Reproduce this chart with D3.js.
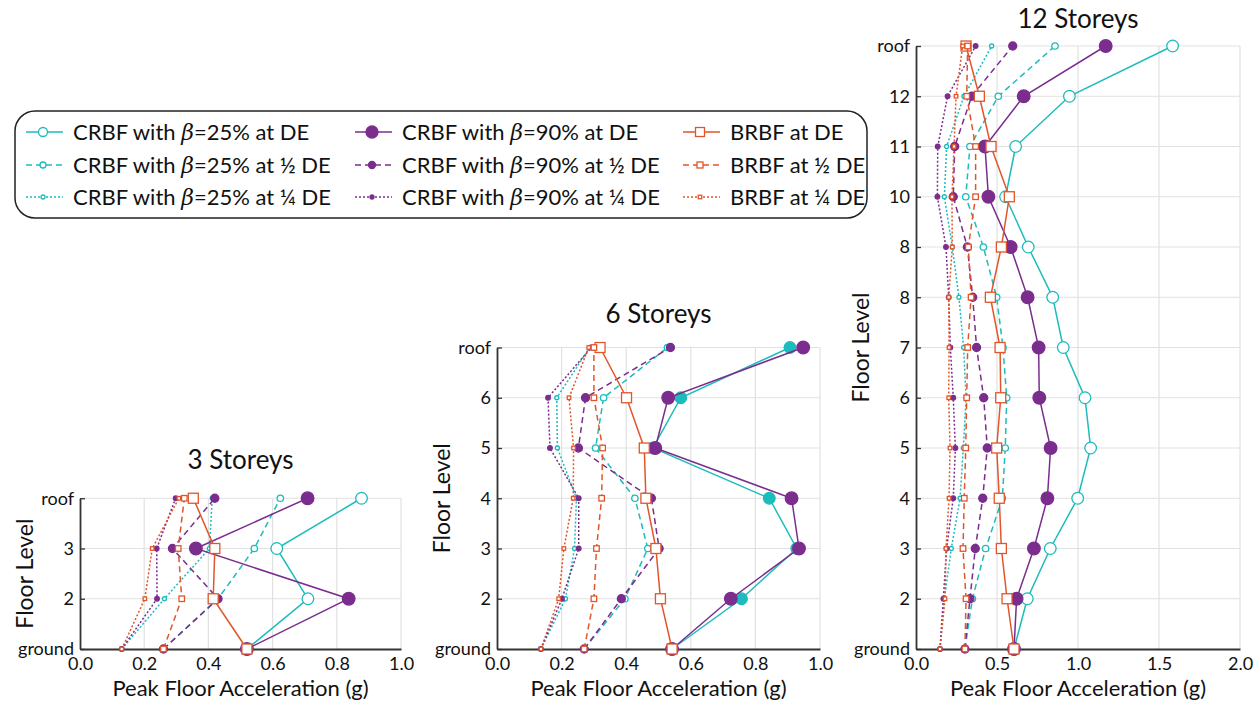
<!DOCTYPE html>
<html>
<head>
<meta charset="utf-8">
<script src="https://cdn.jsdelivr.net/npm/d3@7"></script>
<style>
  body { margin: 0; background: #fff; }
  text { font-family: Lato, "Open Sans", sans-serif; fill: #111; }
</style>
</head>
<body>
<div id="chart"></div>
<script>
// floor labels (bottom to top)
var levels3 = ["ground", "2", "3", "roof"];
var levels6 = ["ground", "2", "3", "4", "5", "6", "roof"];
var levels12 = ["ground", "2", "3", "4", "5", "6", "7", "8", "8", "10", "11", "12", "roof"];

var seriesNames = [
  "CRBF with β=25% at DE", "CRBF with β=25% at ½ DE", "CRBF with β=25% at ¼ DE",
  "CRBF with β=90% at DE", "CRBF with β=90% at ½ DE", "CRBF with β=90% at ¼ DE",
  "BRBF at DE", "BRBF at ½ DE", "BRBF at ¼ DE"
];

// peak floor acceleration (g), one row per series, ground -> roof
var pfa3 = [
  [0.52, 0.71, 0.613, 0.877],
  [0.26, 0.43, 0.543, 0.624],
  [0.13, 0.263, 0.403, 0.412],
  [0.52, 0.837, 0.361, 0.709],
  [0.26, 0.43, 0.288, 0.42],
  [0.13, 0.24, 0.239, 0.298],
  [0.52, 0.415, 0.42, 0.353],
  [0.26, 0.317, 0.306, 0.325],
  [0.13, 0.202, 0.225, 0.308]
];

var pfa6 = [
  [0.542, 0.757, 0.928, 0.843, 0.483, 0.569, 0.907],
  [0.27, 0.396, 0.467, 0.427, 0.305, 0.33, 0.528],
  [0.136, 0.212, 0.24, 0.246, 0.187, 0.185, 0.287],
  [0.542, 0.724, 0.935, 0.912, 0.49, 0.53, 0.948],
  [0.27, 0.385, 0.502, 0.478, 0.252, 0.274, 0.537],
  [0.136, 0.201, 0.253, 0.253, 0.164, 0.158, 0.292],
  [0.542, 0.506, 0.492, 0.461, 0.456, 0.401, 0.319],
  [0.27, 0.30, 0.308, 0.324, 0.327, 0.30, 0.30],
  [0.136, 0.191, 0.207, 0.236, 0.237, 0.223, 0.284]
];

var pfa12 = [
  [0.605, 0.687, 0.829, 0.998, 1.078, 1.043, 0.909, 0.844, 0.693, 0.553, 0.615, 0.947, 1.584],
  [0.302, 0.348, 0.43, 0.533, 0.551, 0.56, 0.537, 0.498, 0.416, 0.307, 0.333, 0.508, 0.858],
  [0.148, 0.175, 0.218, 0.272, 0.292, 0.309, 0.294, 0.265, 0.224, 0.175, 0.189, 0.296, 0.467],
  [0.605, 0.621, 0.728, 0.811, 0.831, 0.761, 0.757, 0.689, 0.584, 0.447, 0.426, 0.665, 1.171],
  [0.302, 0.333, 0.366, 0.412, 0.44, 0.418, 0.374, 0.35, 0.317, 0.23, 0.239, 0.344, 0.597],
  [0.148, 0.169, 0.189, 0.23, 0.243, 0.23, 0.212, 0.202, 0.185, 0.132, 0.134, 0.195, 0.368],
  [0.605, 0.562, 0.527, 0.514, 0.498, 0.523, 0.519, 0.459, 0.527, 0.576, 0.463, 0.391, 0.309],
  [0.302, 0.309, 0.29, 0.298, 0.307, 0.313, 0.319, 0.34, 0.323, 0.368, 0.368, 0.313, 0.319],
  [0.148, 0.179, 0.185, 0.204, 0.21, 0.202, 0.204, 0.202, 0.224, 0.222, 0.235, 0.247, 0.288]
];

var ticks1 = [0, 0.2, 0.4, 0.6, 0.8, 1.0];
var ticks2 = [0, 0.5, 1.0, 1.5, 2.0];

// colours and marker styles
var cyan = "#1dbcbc", purple = "#7b2d8e", orange = "#e2552a";
var styles = [
  {color: cyan, dash: null, shape: "circle", size: 5.8, fill: false, lsize: 4.5},
  {color: cyan, dash: "6,4", shape: "circle", size: 3.2, fill: false, lsize: 3},
  {color: cyan, dash: "2,2", shape: "circle", size: 2, fill: false, lsize: 2},
  {color: purple, dash: null, shape: "circle", size: 6.3, fill: true, lsize: 6},
  {color: purple, dash: "6,4", shape: "circle", size: 4, fill: true, lsize: 3.5},
  {color: purple, dash: "2,2", shape: "circle", size: 2.3, fill: true, lsize: 2},
  {color: orange, dash: null, shape: "square", size: 10, fill: false, lsize: 9},
  {color: orange, dash: "6,4", shape: "square", size: 5.5, fill: false, lsize: 6},
  {color: orange, dash: "2,2", shape: "square", size: 3.5, fill: false, lsize: 3.5}
];

var W = 1257, H = 702;
var svg = d3.select("#chart").append("svg")
  .attr("width", W).attr("height", H);

var panels = [
  {title: "3 Storeys", titleY: 469, levels: levels3, data: pfa3, left: 80, right: 401, xmax: 1.0, ticks: ticks1, filledC25: false},
  {title: "6 Storeys", titleY: 323, levels: levels6, data: pfa6, left: 497, right: 820, xmax: 1.0, ticks: ticks1, filledC25: true},
  {title: "12 Storeys", titleY: 28, levels: levels12, data: pfa12, left: 916, right: 1240, xmax: 2.0, ticks: ticks2, filledC25: false}
];

var bottom = 649, step = 50.25;

function drawMarker(g, st, x, y, size, filled) {
  if (st.shape === "circle") {
    g.append("circle")
      .attr("cx", x).attr("cy", y).attr("r", size)
      .attr("fill", filled ? st.color : "#fff")
      .attr("stroke", st.color).attr("stroke-width", 1.3);
  } else {
    g.append("rect")
      .attr("x", x - size / 2).attr("y", y - size / 2)
      .attr("width", size).attr("height", size)
      .attr("fill", "#fff")
      .attr("stroke", st.color).attr("stroke-width", 1.3);
  }
}

panels.forEach(function(p) {
  var n = p.levels.length;
  var top = bottom - step * (n - 1);
  var x = d3.scaleLinear().domain([0, p.xmax]).range([p.left, p.right]);
  var y = d3.scaleLinear().domain([0, n - 1]).range([bottom, top]);
  var g = svg.append("g");

  // grid
  g.selectAll(".vg").data(p.ticks.slice(1)).enter().append("line")
    .attr("x1", function(d) { return x(d); }).attr("x2", function(d) { return x(d); })
    .attr("y1", bottom).attr("y2", top)
    .attr("stroke", "#e1e1e1").attr("stroke-width", 1.2);
  g.selectAll(".hg").data(d3.range(1, n)).enter().append("line")
    .attr("x1", p.left).attr("x2", p.right)
    .attr("y1", function(d) { return y(d); }).attr("y2", function(d) { return y(d); })
    .attr("stroke", "#e1e1e1").attr("stroke-width", 1.2);

  // axes
  var xAxis = g.append("g").attr("transform", "translate(0," + bottom + ")")
    .call(d3.axisBottom(x).tickValues(p.ticks).tickFormat(d3.format(".1f")).tickSize(0).tickPadding(8));
  xAxis.select(".domain").attr("stroke", "#333").attr("stroke-width", 1.8);
  xAxis.selectAll("text").attr("font-size", 18).attr("font-family", "Lato, sans-serif").attr("fill", "#111");

  var yAxis = g.append("g").attr("transform", "translate(" + p.left + ",0)")
    .call(d3.axisLeft(y).tickValues(d3.range(n)).tickFormat(function(i) { return p.levels[i]; })
      .tickSizeInner(-5).tickSizeOuter(0).tickPadding(6));
  yAxis.select(".domain").attr("stroke", "#333").attr("stroke-width", 1.8);
  yAxis.selectAll(".tick line").attr("stroke", "#333").attr("stroke-width", 1.3);
  yAxis.selectAll("text").attr("font-size", 18).attr("font-family", "Lato, sans-serif").attr("fill", "#111");

  // titles
  g.append("text").attr("x", (p.left + p.right) / 2).attr("y", p.titleY)
    .attr("text-anchor", "middle").attr("font-size", 26).text(p.title);
  g.append("text").attr("x", (p.left + p.right) / 2).attr("y", 696)
    .attr("text-anchor", "middle").attr("font-size", 22).text("Peak Floor Acceleration (g)");
  g.append("text")
    .attr("transform", "translate(" + (p.left - 56) + "," + ((top + bottom) / 2) + ") rotate(-90)")
    .attr("text-anchor", "middle").attr("dominant-baseline", "central")
    .attr("font-size", 23).text("Floor Level");

  // series
  var line = d3.line()
    .x(function(d) { return x(d); })
    .y(function(d, i) { return y(i); });
  p.data.forEach(function(vals, si) {
    var st = styles[si];
    var sg = g.append("g");
    sg.append("path").attr("d", line(vals))
      .attr("fill", "none").attr("stroke", st.color).attr("stroke-width", 1.5)
      .attr("stroke-dasharray", st.dash);
    var filled = st.fill || (si === 0 && p.filledC25);
    vals.forEach(function(v, i) {
      drawMarker(sg, st, x(v), y(i), st.size, filled);
    });
  });
});

// legend
var lg = svg.append("g");
lg.append("rect").attr("x", 15).attr("y", 111).attr("width", 852).attr("height", 107)
  .attr("rx", 20).attr("fill", "#fff").attr("stroke", "#222").attr("stroke-width", 1.5);
var colX = [26, 355, 683], rowY = [132, 165, 197];
seriesNames.forEach(function(name, i) {
  var st = styles[i];
  var cx = colX[Math.floor(i / 3)], cy = rowY[i % 3];
  lg.append("line").attr("x1", cx).attr("x2", cx + 37).attr("y1", cy).attr("y2", cy)
    .attr("stroke", st.color).attr("stroke-width", 1.5).attr("stroke-dasharray", st.dash);
  drawMarker(lg, st, cx + 17, cy, st.lsize, st.fill);
  var t = lg.append("text").attr("x", cx + 47).attr("y", cy + 8).attr("font-size", 22);
  var parts = name.split("β");
  t.append("tspan").text(parts[0]);
  if (parts.length > 1) {
    t.append("tspan").attr("font-style", "italic").attr("font-family", "'DejaVu Serif', serif").text("β");
    t.append("tspan").text(parts[1]);
  }
});
</script>
</body>
</html>
